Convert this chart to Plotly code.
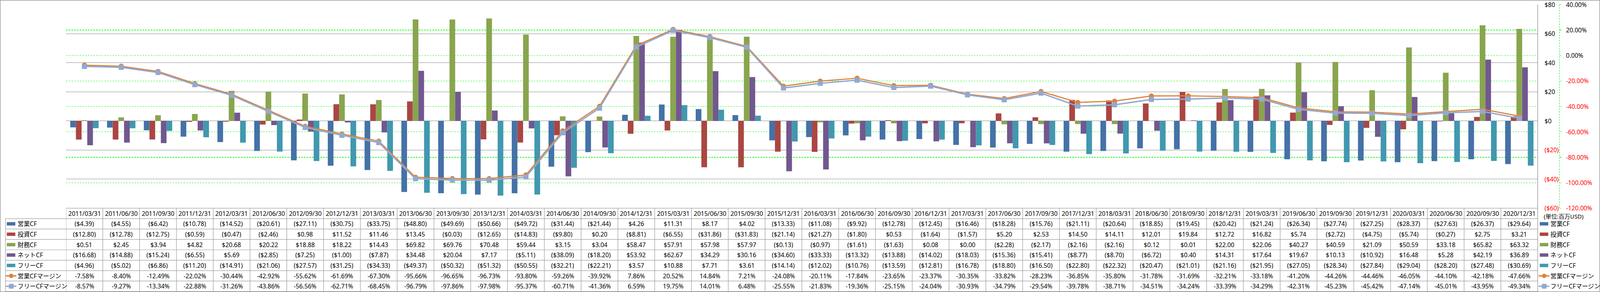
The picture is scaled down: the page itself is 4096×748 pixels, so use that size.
import plotly.graph_objects as go

# ---------------- data ----------------
dates = ["2011/03/31", "2011/06/30", "2011/09/30", "2011/12/31",
         "2012/03/31", "2012/06/30", "2012/09/30", "2012/12/31",
         "2013/03/31", "2013/06/30", "2013/09/30", "2013/12/31",
         "2014/03/31", "2014/06/30", "2014/09/30", "2014/12/31",
         "2015/03/31", "2015/06/30", "2015/09/30", "2015/12/31",
         "2016/03/31", "2016/06/30", "2016/09/30", "2016/12/31",
         "2017/03/31", "2017/06/30", "2017/09/30", "2017/12/31",
         "2018/03/31", "2018/06/30", "2018/09/30", "2018/12/31",
         "2019/03/31", "2019/06/30", "2019/09/30", "2019/12/31",
         "2020/03/31", "2020/06/30", "2020/09/30", "2020/12/31"]

op_cf = [-4.39, -4.55, -6.42, -10.78, -14.52, -20.61, -27.11, -30.75, -33.75, -48.80,
         -49.69, -50.66, -49.72, -31.44, -21.44, 4.26, 11.31, 8.17, 4.02, -13.33,
         -11.08, -9.92, -12.78, -12.45, -16.46, -18.28, -15.76, -21.11, -20.64, -18.85,
         -19.45, -20.42, -21.24, -26.34, -27.74, -27.25, -28.37, -27.63, -26.37, -29.64]

inv_cf = [-12.80, -12.78, -12.75, -0.59, -0.47, -2.46, 0.98, 11.52, 11.46, 13.45,
          -0.03, -12.65, -14.83, -9.80, 0.20, -8.81, -6.55, -31.86, -31.83, -21.14,
          -21.27, -1.80, 0.53, -1.64, -1.57, 5.20, 2.53, 14.50, 14.11, 12.01,
          19.84, 12.72, 16.82, 5.74, -2.72, -4.75, -5.74, -0.27, 2.75, 3.21]

fin_cf = [0.51, 2.45, 3.94, 4.82, 20.68, 20.22, 18.88, 18.22, 14.43, 69.82,
          69.76, 70.48, 59.44, 3.15, 3.04, 58.47, 57.91, 57.98, 57.97, -0.13,
          -0.97, -1.61, -1.63, 0.08, 0.00, -2.28, -2.17, -2.16, -2.16, 0.12,
          0.01, 22.00, 22.06, 40.27, 40.59, 21.09, 50.59, 33.18, 65.82, 63.32]

net_cf = [-16.68, -14.88, -15.24, -6.55, 5.69, -2.85, -7.25, -1.00, -7.87, 34.48,
          20.04, 7.17, -5.11, -38.09, -18.20, 53.92, 62.67, 34.29, 30.16, -34.60,
          -33.33, -13.32, -13.88, -14.02, -18.03, -15.36, -15.41, -8.77, -8.70, -6.72,
          0.40, 14.31, 17.64, 19.67, 10.13, -10.92, 16.48, 5.28, 42.19, 36.89]

free_cf = [-4.96, -5.02, -6.86, -11.20, -14.91, -21.06, -27.57, -31.25, -34.33, -49.37,
           -50.32, -51.32, -50.55, -32.21, -22.21, 3.57, 10.88, 7.71, 3.61, -14.14,
           -12.02, -10.76, -13.59, -12.81, -16.78, -18.80, -16.50, -22.80, -22.32, -20.47,
           -21.01, -21.16, -21.95, -27.05, -28.34, -27.84, -29.04, -28.20, -27.48, -30.69]

op_margin = [-7.58, -8.40, -12.49, -22.02, -30.44, -42.92, -55.62, -61.69, -67.30, -95.66,
             -96.65, -96.73, -93.80, -59.26, -39.92, 7.86, 20.52, 14.84, 7.21, -24.08,
             -20.11, -17.84, -23.65, -23.37, -30.35, -33.82, -28.23, -36.85, -35.80, -31.78,
             -31.69, -32.21, -33.18, -41.20, -44.26, -44.46, -46.05, -44.10, -42.18, -47.66]

free_margin = [-8.57, -9.27, -13.34, -22.88, -31.26, -43.86, -56.56, -62.71, -68.45, -96.79,
               -97.86, -97.98, -95.37, -60.71, -41.36, 6.59, 19.75, 14.01, 6.48, -25.55,
               -21.83, -19.36, -25.15, -24.04, -30.93, -34.79, -29.54, -39.78, -38.71, -34.51,
               -34.24, -33.39, -34.29, -42.31, -45.23, -45.42, -47.14, -45.01, -43.95, -49.34]

bar_names = ["営業CF", "投資CF", "財務CF", "ネットCF", "フリーCF"]
line_names = ["営業CFマージン", "フリーCFマージン"]
y1_ticks = [80, 60, 40, 20, 0, -20, -40, -60]
y2_ticks = [40, 20, 0, -20, -40, -60, -80, -100, -120]
unit_label = "(単位:百万USD)"

# ---------------- styling / geometry (reference pixels) ----------------
REF_W, REF_H = 4701, 858
S = 4096 / REF_W
W, H = 4096, 748

bar_colors = ["#4572A7", "#AA4643", "#89A54E", "#71588F", "#4198AF"]
line_colors = ["#DB843D", "#93A9CF"]
GRID_GRAY = "#888888"
GRID_GREEN = "#00FF00"
TABLE_LINE = "#9A9A9A"
RED = "#FF0000"
FONT = "Noto Sans, Noto Sans CJK JP, sans-serif"
FS = 18 * S

PLOT_L, PLOT_R = 194, 4518
PLOT_T, PLOT_B = 13.6, 611.8
AX2_X = 4582
TAB_TOP = 611.8
ROW_H = 30.58
LAB_L = 16
TAB_BOT = TAB_TOP + 8 * ROW_H


def fx(x):
    return x / REF_W


def fy(y):
    return 1 - y / REF_H


def money(v):
    return f"(${abs(v):.2f})" if v < 0 else f"${v:.2f}"


def money_tick(v):
    return f"(${abs(v):.0f})" if v < 0 else f"${v:.0f}"


fig = go.Figure()

bar_series = [op_cf, inv_cf, fin_cf, net_cf, free_cf]
for name, vals, col in zip(bar_names, bar_series, bar_colors):
    fig.add_trace(go.Bar(x=dates, y=vals, name=name, marker=dict(color=col, line=dict(width=0)),
                         yaxis="y"))

line_series = [op_margin, free_margin]
symbols = ["circle", "square"]
for name, vals, col, sym in zip(line_names, line_series, line_colors, symbols):
    fig.add_trace(go.Scatter(x=dates, y=vals, name=name, mode="lines+markers", yaxis="y2",
                             line=dict(color=col, width=(3.4 if sym == "circle" else 4.0) * S),
                             marker=dict(symbol=sym, size=15 * S, color=col,
                                         line=dict(width=0)),
                             cliponaxis=False))

shapes = []
annotations = []

# outer border
shapes.append(dict(type="rect", xref="paper", yref="paper", x0=fx(0.7), x1=fx(4700.3),
                   y0=fy(857.3), y1=fy(1.0), line=dict(color=GRID_GRAY, width=1.4 * S),
                   fillcolor="rgba(0,0,0,0)", layer="above"))

# secondary axis dashed line
shapes.append(dict(type="line", xref="paper", yref="y2", x0=fx(AX2_X), x1=fx(AX2_X),
                   y0=-120, y1=40, line=dict(color=GRID_GREEN, width=1.4 * S, dash="4px,3px")))

# right plot border continues down through the table
shapes.append(dict(type="line", xref="paper", yref="paper", x0=fx(PLOT_R), x1=fx(PLOT_R),
                   y0=fy(PLOT_T), y1=fy(TAB_BOT), line=dict(color=GRID_GRAY, width=1.4 * S)))

# tick labels (primary)
for v in y1_ticks:
    annotations.append(dict(xref="paper", yref="y", x=fx(4536), y=v, text=money_tick(v),
                            xanchor="left", yanchor="middle", showarrow=False,
                            font=dict(family=FONT, size=FS, color=RED if v < 0 else "#000000")))
# tick labels (secondary)
for v in y2_ticks:
    annotations.append(dict(xref="paper", yref="y2", x=fx(4599), y=v, text=f"{v:.2f}%",
                            xanchor="left", yanchor="middle", showarrow=False,
                            font=dict(family=FONT, size=FS, color=RED if v < 0 else "#000000")))

# ---------------- data table ----------------
n = len(dates)
shapes.append(dict(type="line", xref="x", yref="paper", x0=-0.5, x1=n - 0.5,
                   y0=fy(TAB_TOP), y1=fy(TAB_TOP), line=dict(color=TABLE_LINE, width=1.4 * S)))
for r in range(1, 9):
    yy = TAB_TOP + r * ROW_H
    shapes.append(dict(type="line", xref="paper", yref="paper", x0=fx(LAB_L), x1=fx(PLOT_R),
                       y0=fy(yy), y1=fy(yy), line=dict(color=TABLE_LINE, width=1.4 * S)))
for j in range(n):
    shapes.append(dict(type="line", xref="x", yref="paper", x0=j - 0.5, x1=j - 0.5,
                       y0=fy(TAB_TOP), y1=fy(TAB_BOT), line=dict(color=TABLE_LINE, width=1.4 * S)))
shapes.append(dict(type="line", xref="paper", yref="paper", x0=fx(LAB_L), x1=fx(LAB_L),
                   y0=fy(TAB_TOP + ROW_H), y1=fy(TAB_BOT), line=dict(color=TABLE_LINE, width=1.4 * S)))

for j, d in enumerate(dates):
    annotations.append(dict(xref="x", yref="paper", x=d, y=fy(TAB_TOP + 0.5 * ROW_H), text=d,
                            xanchor="center", yanchor="middle", showarrow=False,
                            font=dict(family=FONT, size=FS, color="#000000")))

rows = [(bar_names[i], bar_series[i], "money") for i in range(5)] + \
       [(line_names[i], line_series[i], "pct") for i in range(2)]
for r, (name, vals, kind) in enumerate(rows):
    yc = TAB_TOP + (r + 1.5) * ROW_H
    for j, v in enumerate(vals):
        txt = money(v) if kind == "money" else f"{v:.2f}%"
        annotations.append(dict(xref="x", yref="paper", x=dates[j], y=fy(yc), text=txt,
                                xanchor="center", yanchor="middle", showarrow=False,
                                font=dict(family=FONT, size=FS, color="#000000")))
    for (kx0, tx) in [(20, 49), (4524, 4553)]:
        if kind == "money":
            col = bar_colors[r]
            shapes.append(dict(type="rect", xref="paper", yref="paper", x0=fx(kx0), x1=fx(kx0 + 25),
                               y0=fy(yc + 5), y1=fy(yc - 5), fillcolor=col, line=dict(width=0)))
        else:
            li = r - 5
            col = line_colors[li]
            cx = kx0 + 13
            shapes.append(dict(type="line", xref="paper", yref="paper", x0=fx(kx0 - 3), x1=fx(kx0 + 28),
                               y0=fy(yc), y1=fy(yc), line=dict(color=col, width=4 * S)))
            if li == 0:
                shapes.append(dict(type="circle", xref="paper", yref="paper", x0=fx(cx - 6.5),
                                   x1=fx(cx + 6.5), y0=fy(yc + 6.5), y1=fy(yc - 6.5),
                                   fillcolor=col, line=dict(width=0)))
            else:
                shapes.append(dict(type="rect", xref="paper", yref="paper", x0=fx(cx - 7),
                                   x1=fx(cx + 7), y0=fy(yc + 7), y1=fy(yc - 7),
                                   fillcolor=col, line=dict(width=0)))
        annotations.append(dict(xref="paper", yref="paper", x=fx(tx), y=fy(yc), text=name,
                                xanchor="left", yanchor="middle", showarrow=False,
                                font=dict(family=FONT, size=FS, color="#000000")))

annotations.append(dict(xref="paper", yref="paper", x=fx(4533), y=fy(635), text=unit_label,
                        xanchor="left", yanchor="middle", showarrow=False,
                        font=dict(family=FONT, size=17 * S, color="#000000")))

fig.update_layout(
    width=W, height=H, autosize=False,
    margin=dict(l=0, r=0, t=0, b=0, pad=0),
    paper_bgcolor="#FFFFFF", plot_bgcolor="#FFFFFF",
    showlegend=False,
    barmode="group", bargap=0.229, bargroupgap=0,
    font=dict(family=FONT, size=FS, color="#000000"),
    xaxis=dict(domain=[fx(PLOT_L), fx(PLOT_R)], type="category", range=[-0.5, n - 0.5],
               showgrid=False, showticklabels=False, zeroline=False, showline=False, ticks=""),
    yaxis=dict(domain=[fy(PLOT_B), fy(PLOT_T)], range=[-60, 80], tickvals=y1_ticks,
               showgrid=True, gridcolor=GRID_GRAY, gridwidth=1.4 * S, zeroline=False,
               showticklabels=False, ticks="", side="right", showline=False),
    yaxis2=dict(overlaying="y", anchor="free", position=fx(AX2_X), side="right",
                range=[-120, 40], tickvals=y2_ticks, showgrid=True, gridcolor=GRID_GREEN,
                griddash="4px,3px", gridwidth=1.4 * S, zeroline=False, showticklabels=False,
                ticks="outside", ticklen=4 * S, tickcolor=GRID_GREEN, tickwidth=1.4 * S,
                showline=False),
    shapes=shapes,
    annotations=annotations,
)

fig.write_html("out.html", config={"displayModeBar": False, "staticPlot": True},
               post_script="document.body.style.margin='0px';document.body.style.overflow='hidden';")
